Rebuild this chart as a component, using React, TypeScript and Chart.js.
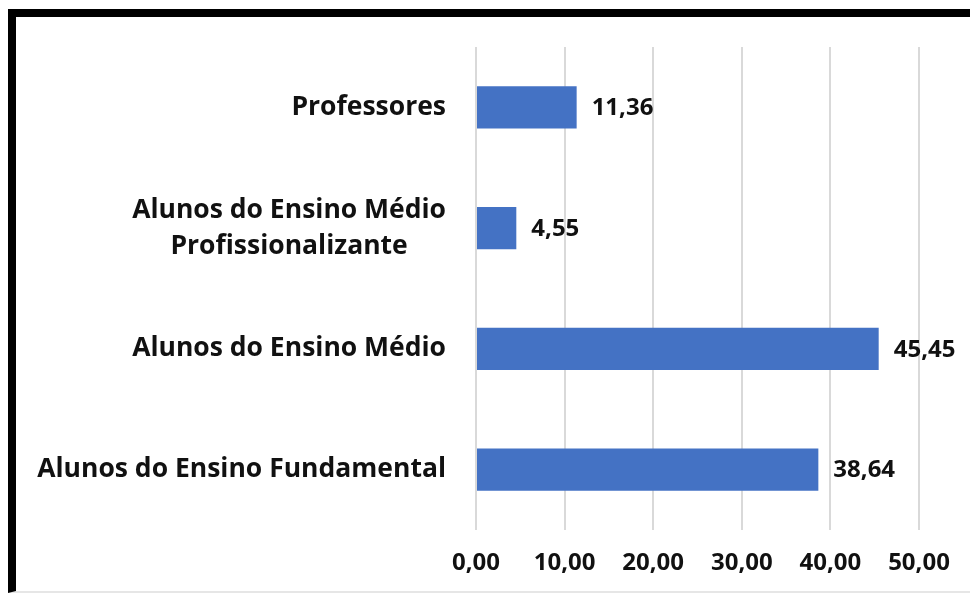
import React, { useEffect, useRef } from "react";
import { Chart, registerables } from "chart.js";

Chart.register(...registerables);

const categories: (string | string[])[] = [
  "Professores",
  ["Alunos do Ensino Médio", "Profissionalizante"],
  "Alunos do Ensino Médio",
  "Alunos do Ensino Fundamental",
];
const values: number[] = [11.36, 4.55, 45.45, 38.64];
const xMin = 0;
const xMax = 50;
const xStep = 10;

const FONT = "'Open Sans', 'Noto Sans', sans-serif";
const fmt = (v: number) => v.toFixed(2).replace(".", ",");

const labelPlugin = {
  id: "customLabels",
  afterDatasetsDraw(chart: any) {
    const ctx = chart.ctx;
    const yScale = chart.scales.y;
    const meta = chart.getDatasetMeta(0);
    ctx.save();
    ctx.fillStyle = "#111";
    ctx.font = `bold 24px ${FONT}`;
    ctx.textBaseline = "middle";
    // data labels
    ctx.textAlign = "left";
    meta.data.forEach((bar: any, i: number) => {
      ctx.fillText(fmt(values[i]), bar.x + 15, bar.y + 1);
    });
    // category labels
    ctx.font = `bold 26.5px ${FONT}`;
    ctx.textAlign = "center";
    const rightEdge = chart.chartArea.left - 30;
    const lineH = 36;
    categories.forEach((c, i) => {
      const lines = Array.isArray(c) ? c : [c];
      const maxW = Math.max(...lines.map((l) => ctx.measureText(l).width));
      const cx = rightEdge - maxW / 2;
      const y = yScale.getPixelForTick(i);
      const y0 = y - ((lines.length - 1) * lineH) / 2;
      lines.forEach((l, k) => ctx.fillText(l, cx, y0 + k * lineH));
    });
    ctx.restore();
  },
};

export default function App() {
  const ref = useRef<HTMLCanvasElement>(null);
  useEffect(() => {
    if (!ref.current) return;
    const chart = new Chart(ref.current, {
      type: "bar",
      data: {
        labels: categories as any,
        datasets: [
          {
            data: values,
            backgroundColor: "#4472C4",
            borderWidth: 0,
            barPercentage: 0.7,
            categoryPercentage: 0.5,
          },
        ],
      },
      options: {
        indexAxis: "y",
        animation: false,
        responsive: false,
        maintainAspectRatio: false,
        layout: { padding: { left: 0, right: 51, top: 47, bottom: 0 } },
        plugins: { legend: { display: false }, tooltip: { enabled: false } },
        scales: {
          x: {
            min: xMin,
            max: xMax,
            ticks: {
              stepSize: xStep,
              padding: 19,
              color: "#111",
              font: { family: FONT, size: 24, weight: "bold" },
              callback: (v: any) => fmt(Number(v)),
            },
            grid: { color: "#d9d9d9", lineWidth: 2, drawTicks: false },
            border: { display: false },
            afterFit: (s: any) => {
              s.height = 65;
            },
          },
          y: {
            ticks: { display: false },
            grid: { display: false },
            border: { display: false },
            afterFit: (s: any) => {
              s.width = 476;
            },
          },
        },
      },
      plugins: [labelPlugin],
    });
    return () => chart.destroy();
  }, []);
  return (
    <div style={{ position: "fixed", left: 0, top: 0, width: 970, height: 595, background: "#fff" }}>
      <canvas ref={ref} width={970} height={595} style={{ position: "absolute", left: 0, top: 0 }} />
      <div
        style={{
          position: "absolute",
          left: 8,
          top: 9,
          width: 962,
          height: 584,
          borderLeft: "8px solid #000",
          borderTop: "8px solid #000",
          borderBottom: "2px solid #e6e6e6",
          boxSizing: "border-box",
          pointerEvents: "none",
        }}
      />
    </div>
  );
}
